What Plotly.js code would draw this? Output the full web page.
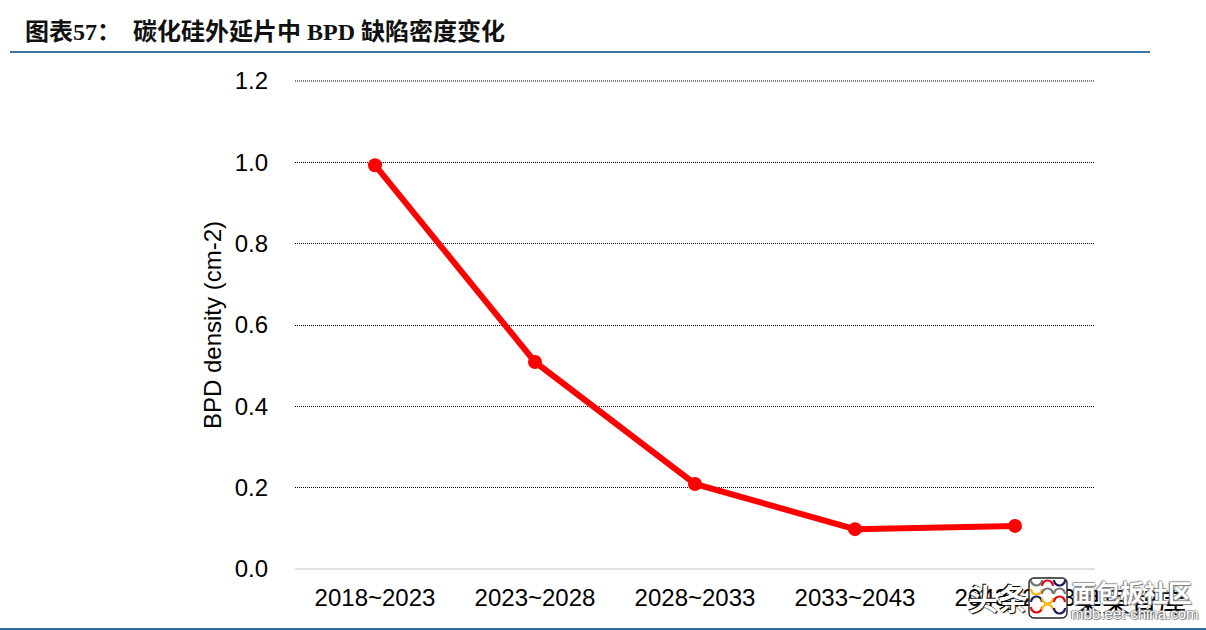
<!DOCTYPE html>
<html><head><meta charset="utf-8">
<script src="https://cdn.plot.ly/plotly-3.0.1.min.js"></script>
<style>html,body{margin:0;padding:0;background:#fff}</style></head>
<body><div id="chart" style="width:1206px;height:630px"></div>
<script>
const categories = ["2018~2023","2023~2028","2028~2033","2033~2043","2043~2053"];
const bpdDensity = [0.993,0.509,0.209,0.098,0.106];
const yTicks = [0,0.2,0.4,0.6,0.8,1.0,1.2];
const yTickLabels = ["0.0","0.2","0.4","0.6","0.8","1.0","1.2"];
const titleText = "图表57：  碳化硅外延片中 BPD 缺陷密度变化";
const yAxisTitle = "BPD density (cm-2)";
const sans = '"Liberation Sans", Arial, sans-serif';
const serifCjk = '"Liberation Serif", "Noto Sans CJK SC", serif';
const cjk = '"Noto Sans CJK SC"';

// watermark logo
const arc = (x,y,c,flip)=>`<path d="M${x} ${y+(flip?0:6)}a5.5 5.5 0 0 ${flip?0:1} 11 0" fill="none" stroke="${c}" stroke-width="2.2"/>`;
const logoSvg = `<svg xmlns="http://www.w3.org/2000/svg" width="40" height="42" viewBox="0 0 40 42">`+
  `<rect x="1" y="1" width="38" height="40" rx="5" fill="#fff" stroke="#222" stroke-width="1.4"/>`+
  arc(3,3,"#777",true)+arc(14,3,"#e30613",false)+arc(26,3,"#1b1b5e",true)+
  arc(3,12,"#fbb615",true)+arc(14,11,"#777",false)+arc(26,11,"#777",false)+
  arc(3,19,"#1b1b5e",false)+arc(14,21,"#fbb615",true)+arc(26,19,"#e30613",false)+
  arc(3,30,"#e30613",true)+arc(14,27,"#fbb615",false)+arc(26,31,"#1b1b5e",true)+`</svg>`;

const px = v => (v-295)/800, py = v => (569-v)/488;
const wmShadow = "1px 1px 1px #000, -1px -1px 0 #000";
const greyShadow = "1px 1px 1px #777, -1px 0 1px #777, 0 -1px 1px #999";

Plotly.newPlot("chart",[{
  type:"scatter",mode:"lines+markers",x:categories,y:bpdDensity,
  line:{color:"#ff0000",width:6},
  marker:{color:"#ff0000",size:14},
  hoverinfo:"x+y",cliponaxis:false
}],{
  width:1206,height:630,showlegend:false,
  paper_bgcolor:"#fff",plot_bgcolor:"#fff",
  margin:{l:295,r:111,t:81,b:61,pad:0},
  title:{text:"<b>"+titleText+"</b>",x:25/1206,xanchor:"left",y:1-32/630,yanchor:"middle",
    font:{family:serifCjk,size:24,color:"#111"}},
  xaxis:{type:"category",categoryorder:"array",categoryarray:categories,range:[-0.5,4.5],
    showgrid:false,zeroline:false,showline:false,ticks:"",ticklabelstandoff:12,
    tickfont:{family:sans,size:24,color:"#000"},automargin:false},
  yaxis:{range:[0,1.2],tickmode:"array",tickvals:yTicks,ticktext:yTickLabels,
    showgrid:true,gridcolor:"#000",griddash:"1px,1px",gridwidth:1,
    zeroline:false,showline:false,ticks:"",ticklabelstandoff:26,
    tickfont:{family:sans,size:24,color:"#000"},
    title:{text:yAxisTitle,font:{family:sans,size:24,color:"#000"},standoff:6},automargin:false},
  shapes:[
    {type:"line",xref:"paper",yref:"paper",x0:0,x1:1,y0:0,y1:0,line:{color:"#d9d9d9",width:1.5}},
    {type:"line",xref:"paper",yref:"paper",x0:0,x1:1,y0:1,y1:1,line:{color:"#000",width:1,dash:"1px,1px"}},
    {type:"line",xref:"paper",yref:"paper",x0:px(10),x1:px(1150),y0:py(52),y1:py(52),line:{color:"#3b74a0",width:2}},
    {type:"line",xref:"paper",yref:"paper",x0:px(0),x1:px(1206),y0:py(629),y1:py(629),line:{color:"#2f6a96",width:2}}
  ],
  images:[{source:"data:image/svg+xml;utf8,"+encodeURIComponent(logoSvg),xref:"paper",yref:"paper",
    x:px(1028),y:py(577),sizex:40/800,sizey:42/488,xanchor:"left",yanchor:"top",sizing:"stretch",layer:"above"}],
  annotations:[
    {xref:"paper",yref:"paper",x:px(998),y:py(597),xanchor:"center",yanchor:"middle",showarrow:false,
     text:"<b>头条</b>",font:{family:cjk,size:30,color:"#fff",shadow:wmShadow}},
    {xref:"paper",yref:"paper",x:px(1130),y:py(601),xanchor:"center",yanchor:"middle",showarrow:false,
     text:"果果智库",font:{family:cjk,size:28,color:"#000"}},
    {xref:"paper",yref:"paper",x:px(1132),y:py(591),xanchor:"center",yanchor:"middle",showarrow:false,
     text:"<b>面包板社区</b>",font:{family:cjk,size:24,color:"#fff",shadow:greyShadow}},
    {xref:"paper",yref:"paper",x:px(1135),y:py(613),xanchor:"center",yanchor:"middle",showarrow:false,
     text:"mbb.eet-china.com",font:{family:sans,size:15,color:"#fff",shadow:greyShadow}}
  ]
},{displayModeBar:false,responsive:false});
</script></body></html>
